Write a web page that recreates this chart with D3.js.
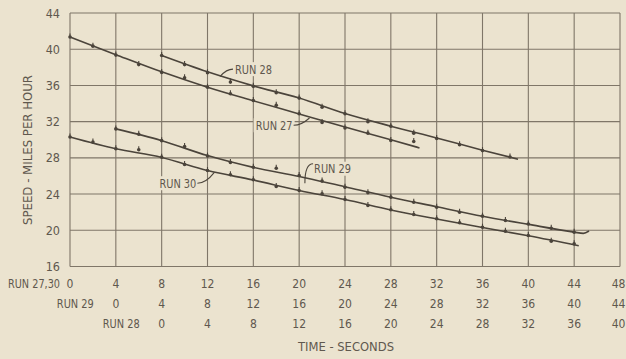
<!DOCTYPE html>
<html><head><meta charset="utf-8">
<script src="https://cdn.jsdelivr.net/npm/d3@7"></script>
<style>
html,body{margin:0;padding:0;background:#ebe3cf;}
svg{display:block;}
text{font-family:"DejaVu Sans Condensed","Liberation Sans Narrow","DejaVu Sans",sans-serif;fill:#5f584e;}
</style></head>
<body><svg id="c" width="626" height="359"></svg>
<script>
// ---- data ----
const yTicks = [16,20,24,28,32,36,40,44];
const xTicks = [0,4,8,12,16,20,24,28,32,36,40,44,48];
const rowNames = ["RUN 27,30","RUN 29","RUN 28"];
const rowOffsets = [0,4,8];          // time-axis offset (s) of each run's own clock
// measured points: [time on own clock (s), speed (mph)]
const run27Pts = [[0,41.35],[2,40.34],[4,39.35],[6,38.3],[8,37.44],[10,36.85],[12,35.8],[14,35.08],[16,34.34],[18,33.8],[20,32.87],[22,31.9],[24,31.3],[26,30.73],[28,29.92],[30,29.8]];
const run28Pts = [[0,39.3],[2,38.3],[4,37.4],[6,36.37],[8,35.9],[10,35.2],[12,34.6],[14,33.6],[16,32.87],[18,32.0],[20,31.5],[22,30.73],[24,30.14],[26,29.45],[28,28.8],[30.4,28.1]];
const run29Pts = [[0,31.2],[2,30.6],[4,29.9],[6,29.26],[8,28.2],[10,27.5],[12,26.97],[14,26.86],[16,26.05],[18,25.43],[20,24.76],[22,24.14],[24,23.66],[26,23.1],[28,22.55],[30,22.0],[32,21.56],[34,21.08],[36,20.7],[38,20.23],[40,19.79]];
const run30Pts = [[0,30.3],[2,29.74],[4,29.0],[6,28.9],[8,28.08],[10,27.27],[12,26.6],[14,26.13],[16,25.58],[18,24.84],[20,24.4],[22,24.03],[24,23.4],[26,22.74],[28,22.26],[30,21.75],[32,21.27],[34,20.83],[36,20.34],[38,19.9],[40,19.42],[42,18.8],[44,18.5]];
// faired curves
const run27Fit = [[0,41.35],[4,39.4],[8,37.5],[12,35.8],[16,34.3],[20,32.85],[24,31.4],[28,30.0],[30.5,29.1]];
const run28Fit = [[0,39.3],[4,37.5],[8,35.95],[12,34.6],[16,32.9],[20,31.5],[24,30.2],[28,28.85],[31.1,27.85]];
const run29Fit = [[0,31.2],[4,29.9],[8,28.25],[12,26.95],[16,25.95],[20,24.8],[24,23.65],[28,22.6],[32,21.55],[36,20.65],[40,19.8],[40.8,19.66],[41.3,19.92]];
const run30Fit = [[0,30.3],[4,29.0],[8,28.05],[12,26.6],[16,25.55],[20,24.4],[24,23.4],[28,22.25],[32,21.25],[36,20.3],[40,19.4],[44.4,18.3]];
const runNames = ["RUN 27","RUN 28","RUN 29","RUN 30"];
const runOffsets = [0,8,4,0];
// label anchors (time on RUN 27/30 clock, speed) and the point on the curve the leader touches
const labelPos = [[16.2,31.6],[14.4,37.8],[21.3,26.8],[7.8,25.2]];
const leaderTo = [[20.9,32.4],[13.1,37.0],[20.5,25.2],[12.6,26.4]];

// ---- chart ----
const svg = d3.select("#c");
const x = d3.scaleLinear().domain([0,48]).range([70,620]);
const y = d3.scaleLinear().domain([16,44]).range([266.5,13]);
const grid = "#7f7668", ink = "#4b443b";

const g = svg.append("g");
g.selectAll("line.v").data(xTicks).join("line")
  .attr("x1",d=>x(d)).attr("x2",d=>x(d)).attr("y1",y(44)).attr("y2",y(16))
  .attr("stroke",grid).attr("stroke-width",1.1);
g.selectAll("line.h").data(yTicks).join("line")
  .attr("y1",d=>y(d)).attr("y2",d=>y(d)).attr("x1",x(0)).attr("x2",x(48))
  .attr("stroke",grid).attr("stroke-width",1.1);

// y tick labels
svg.selectAll("text.yt").data(yTicks).join("text")
  .attr("x",60).attr("y",d=>y(d)+4.5).attr("text-anchor","end")
  .attr("font-size",12.5).text(d=>d);
svg.append("text").attr("transform","translate(32,150) rotate(-90)")
  .attr("text-anchor","middle").attr("font-size",12.5)
  .attr("textLength",150).attr("lengthAdjust","spacingAndGlyphs")
  .text("SPEED - MILES PER HOUR");

// x tick rows
const rowY = [287.5,307.5,327.5];
const rowLen = [52,37,37];
rowNames.forEach((nm,i)=>{
  const off = rowOffsets[i];
  const vals = xTicks.filter(t=>t+off<=48);
  svg.selectAll("text.r"+i).data(vals).join("text")
    .attr("x",d=>Math.min(x(d+off),618.5)).attr("y",rowY[i]).attr("text-anchor","middle")
    .attr("font-size",12).text(d=>d);
  const gap = i===0 ? 10 : 22;
  svg.append("text").attr("x",x(off)-gap-rowLen[i]).attr("y",rowY[i])
    .attr("font-size",12).attr("textLength",rowLen[i]).attr("lengthAdjust","spacingAndGlyphs")
    .text(nm);
});
svg.append("text").attr("x",346).attr("y",351).attr("text-anchor","middle")
  .attr("font-size",12.5).attr("textLength",96).attr("lengthAdjust","spacingAndGlyphs")
  .text("TIME - SECONDS");

// curves and points
const fits = [run27Fit,run28Fit,run29Fit,run30Fit];
const pts = [run27Pts,run28Pts,run29Pts,run30Pts];
const line = d3.line().curve(d3.curveMonotoneX);
fits.forEach((f,i)=>{
  const off = runOffsets[i];
  svg.append("path").attr("d",line(f.map(p=>[x(p[0]+off),y(p[1])])))
    .attr("fill","none").attr("stroke",ink).attr("stroke-width",1.6);
});
pts.forEach((ps,i)=>{
  const off = runOffsets[i];
  const mg = svg.append("g");
  mg.selectAll("circle").data(ps).join("circle")
    .attr("cx",p=>x(p[0]+off)).attr("cy",p=>y(p[1])).attr("r",1.8).attr("fill",ink);
  mg.selectAll("line").data(ps).join("line")
    .attr("x1",p=>x(p[0]+off)).attr("x2",p=>x(p[0]+off))
    .attr("y1",p=>y(p[1])-3.5).attr("y2",p=>y(p[1]))
    .attr("stroke",ink).attr("stroke-width",1.1);
});

// run labels with leaders
runNames.forEach((nm,i)=>{
  const lx = x(labelPos[i][0]), ly = y(labelPos[i][1]);
  svg.append("rect").attr("x",lx-2).attr("y",ly-7).attr("width",41).attr("height",14)
    .attr("fill","#ebe3cf");
  svg.append("text").attr("x",lx).attr("y",ly+4.5).attr("font-size",12.5)
    .attr("textLength",37).attr("lengthAdjust","spacingAndGlyphs").text(nm);
  const tx = x(leaderTo[i][0]), ty = y(leaderTo[i][1]);
  let sx, sy;
  if (i===2) { sx = lx-1; sy = ly-5; }
  else if (tx > lx + 20) { sx = lx+38; sy = ly; }
  else { sx = lx-2; sy = ly; }
  const cx = i===2 ? tx : (sx+tx)/2, cy = sy;
  svg.append("path").attr("d",`M${sx},${sy} Q${cx},${cy} ${tx},${ty}`)
    .attr("fill","none").attr("stroke",ink).attr("stroke-width",1.1);
});
</script></body></html>
